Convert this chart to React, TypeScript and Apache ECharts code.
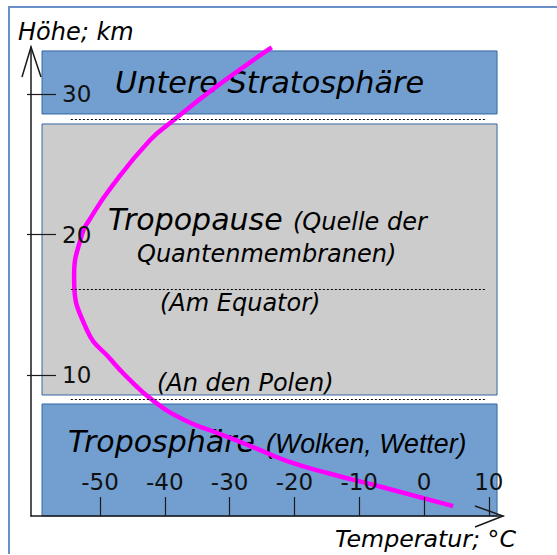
import React, { useEffect, useRef } from "react";
import * as echarts from "echarts";

// ---- data ----
const tempTicks = [-50, -40, -30, -20, -10, 0, 10];
const heightTicks = [10, 20, 30];

// temperature profile (°C) vs height (km), top to bottom
const curveTemp = [-23.5, -32.1, -38.7, -42.3, -48.2, -51.7, -52.8, -54.0, -52.0, -48.3, -46.1, -41.8, -36.9, -31.9, -26.4, -21.1, -14.5, -6.8, 4.5];
const curveHeight = [33.3, 30.5, 28.1, 26.7, 23.4, 21.0, 20.0, 17.0, 13.2, 11.1, 10.0, 8.2, 6.8, 5.9, 4.9, 3.9, 3.0, 2.1, 0.7];

// layer bands (km)
const layerLow = [28.57, 8.6, 0];
const layerHigh = [33.05, 27.86, 7.96];
const layerColors = ["#729fcf", "#cccccc", "#729fcf"];
const bandTempFrom = -58.95;
const bandTempTo = 11.27;

// dotted boundaries (km)
const boundaryHeights = [28.2, 16.1, 8.3];
const boundaryFrom = -54.5;
const boundaryTo = 9.6;

// axis extents
const tempMin = -60.65;
const tempMax = 12.19;
const heightMax = 33.33;

const FONT = "DejaVu Sans";

export default function App() {
  const ref = useRef<HTMLDivElement>(null);
  useEffect(() => {
    if (!ref.current) return;
    const chart = echarts.init(ref.current, null, { renderer: "svg" });

    const txt = (text: string, x: number, y: number, size: number, family = FONT) => ({
      type: "text",
      x,
      y,
      z: 2,
      silent: true,
      style: {
        text,
        fill: "#000",
        fontFamily: family,
        fontStyle: "italic",
        fontSize: size,
        textAlign: "left",
        align: "left",
        textVerticalAlign: "middle",
        verticalAlign: "middle",
      },
    });

    const axisColor = "#1a1a1a";

    chart.setOption({
      animation: false,
      grid: { left: 31, top: 47, width: 472, height: 469, containLabel: false, outerBoundsMode: "none" },
      xAxis: {
        type: "value",
        min: tempMin,
        max: tempMax,
        z: 5,
        axisLine: { show: true, onZero: false, lineStyle: { color: axisColor, width: 1.5 } },
        axisTick: { show: true, inside: true, length: 19, customValues: tempTicks, lineStyle: { color: axisColor, width: 1.2 } },
        axisLabel: {
          show: true,
          inside: true,
          margin: 23,
          customValues: tempTicks,
          fontFamily: FONT,
          fontSize: 23,
          color: "#111",
          formatter: (v: number) => String(v),
        },
        splitLine: { show: false },
      },
      yAxis: [
        {
          type: "value",
          position: "left",
          min: 0,
          max: heightMax,
          z: 5,
          axisLine: { show: true, onZero: false, lineStyle: { color: axisColor, width: 1.5 } },
          axisTick: { show: true, inside: true, length: 25, customValues: heightTicks, lineStyle: { color: axisColor, width: 1.2 } },
          axisLabel: {
            show: true,
            inside: true,
            margin: 31,
            customValues: heightTicks,
            fontFamily: FONT,
            fontSize: 23,
            color: "#111",
            formatter: (v: number) => String(v),
          },
          splitLine: { show: false },
        },
        {
          type: "value",
          position: "left",
          offset: 0,
          min: 0,
          max: heightMax,
          z: 5,
          axisLine: { show: false, onZero: false },
          axisTick: { show: true, inside: false, length: 4, customValues: heightTicks, lineStyle: { color: axisColor, width: 1.2 } },
          axisLabel: { show: false },
          splitLine: { show: false },
        },
      ],
      graphic: {
        elements: [
          {
            type: "polyline",
            z: 0,
            silent: true,
            shape: { points: [[9, 554], [9, 7], [557, 7]] },
            style: { stroke: "#6b8fc7", lineWidth: 2, fill: "none" },
          },
          {
            type: "polyline",
            z: 6,
            silent: true,
            shape: { points: [[22, 77], [31, 47], [41, 77]] },
            style: { stroke: axisColor, lineWidth: 1.5, fill: "none" },
          },
          {
            type: "polyline",
            z: 6,
            silent: true,
            shape: { points: [[475, 506], [503, 516], [475, 527]] },
            style: { stroke: axisColor, lineWidth: 1.5, fill: "none" },
          },
          txt("Höhe; km", 18, 31.5, 24),
          txt("Temperatur; °C", 335, 539, 23.7),
          txt("Untere Stratosphäre", 115, 82.6, 30.3),
          txt("Tropopause", 108, 219.6, 30),
          txt("(Quelle der", 293, 221.7, 24),
          txt("Quantenmembranen)", 137, 253.7, 24),
          txt("(Am Equator)", 160, 302.7, 24),
          txt("(An den Polen)", 157, 382.7, 24),
          txt("Troposphäre", 68, 441.6, 30),
          txt("(Wolken, Wetter)", 266, 444, 26.8, "Liberation Sans"),
        ],
      },
      series: [
        {
          type: "line",
          z: 1,
          data: [],
          silent: true,
          markArea: {
            silent: true,
            label: { show: false },
            data: layerLow.map((lo, i) => [
              {
                xAxis: bandTempFrom,
                yAxis: lo,
                itemStyle: { color: layerColors[i], borderColor: "#3465a4", borderWidth: 1 },
              },
              { xAxis: bandTempTo, yAxis: layerHigh[i] },
            ]),
          },
          markLine: {
            silent: true,
            symbol: ["none", "none"],
            label: { show: false },
            lineStyle: { color: "#000", width: 1, type: [2, 2] },
            data: boundaryHeights.map((h) => [{ coord: [boundaryFrom, h] }, { coord: [boundaryTo, h] }]),
          },
        },
        {
          type: "line",
          z: 3,
          silent: true,
          smooth: 0.5,
          showSymbol: false,
          symbol: "none",
          lineStyle: { color: "#ff00ff", width: 4.5 },
          data: curveTemp.map((t, i) => [t, curveHeight[i]]),
        },
      ],
    });
    return () => chart.dispose();
  }, []);
  return (
    <div
      ref={ref}
      style={{ position: "fixed", left: 0, top: 0, width: 557, height: 555, background: "#fff" }}
    />
  );
}
